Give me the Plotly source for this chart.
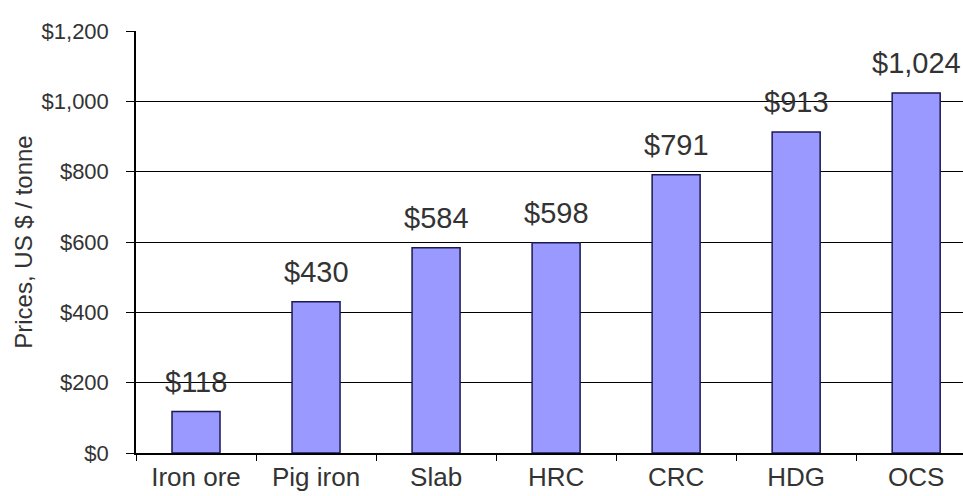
import plotly.graph_objects as go

categories = ["Iron ore", "Pig iron", "Slab", "HRC", "CRC", "HDG", "OCS"]
prices = [118, 430, 584, 598, 791, 913, 1024]
labels = ["$118", "$430", "$584", "$598", "$791", "$913", "$1,024"]
yticks = [0, 200, 400, 600, 800, 1000, 1200]
yticklabels = ["$0", "$200", "$400", "$600", "$800", "$1,000", "$1,200"]

FONT = "Liberation Sans, Arial"
TXT = "#333333"

fig = go.Figure()
fig.add_trace(go.Bar(
    x=categories, y=prices, width=0.4,
    marker=dict(color="#9999FF", line=dict(color="#1a1a50", width=1.5)),
    hoverinfo="skip",
))
for c, v, t in zip(categories, prices, labels):
    fig.add_annotation(x=c, y=v, text=t, showarrow=False, yanchor="bottom",
                       yshift=12, font=dict(family=FONT, size=29, color=TXT))

fig.update_layout(
    width=963, height=496,
    margin=dict(l=136, r=0, t=31, b=43),
    plot_bgcolor="white", paper_bgcolor="white",
    showlegend=False,
    font=dict(family=FONT, color=TXT),
    xaxis=dict(
        range=[-0.5, 6.39], showline=True, linecolor="black", linewidth=1.5,
        ticks="outside", tickson="boundaries", ticklen=6, tickcolor="black",
        tickfont=dict(size=26, color=TXT), showgrid=False,
    ),
    yaxis=dict(
        range=[0, 1200], tickvals=yticks, ticktext=yticklabels,
        showline=True, linecolor="black", linewidth=1.5,
        ticks="outside", ticklen=8, tickcolor="black",
        showgrid=True, gridcolor="black", gridwidth=1.2,
        tickfont=dict(size=22, color=TXT), ticklabelstandoff=13,
        title=dict(text="Prices, US $ / tonne", font=dict(size=24, color=TXT), standoff=2),
        zeroline=False,
    ),
)
fig.write_html("out.html")
